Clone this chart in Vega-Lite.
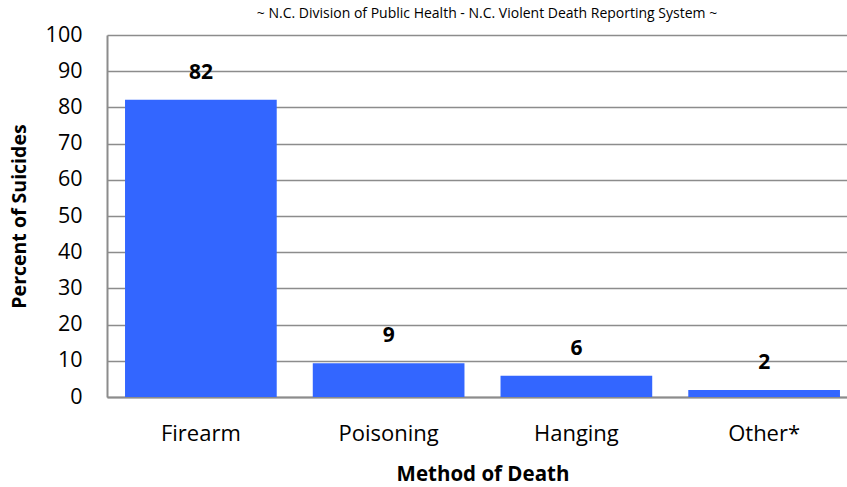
{
  "$schema": "https://vega.github.io/schema/vega-lite/v6.json",
  "autosize": "none",
  "padding": {"left": 107, "top": 35, "right": 0, "bottom": 90},
  "width": 740,
  "height": 362,
  "background": "white",
  "title": {
    "text": "NC-VDRS, 2005-2013",
    "subtitle": "~ N.C. Division of Public Health - N.C. Violent Death Reporting System ~",
    "font": "Open Sans",
    "fontSize": 30,
    "fontWeight": "bold",
    "color": "black",
    "subtitleFont": "Open Sans",
    "subtitleFontSize": 14,
    "subtitleColor": "black",
    "subtitlePadding": 5,
    "anchor": "middle",
    "dx": 10,
    "offset": 3
  },
  "data": {
    "values": [
      {"method": "Firearm", "percent": 82.1, "label": "82"},
      {"method": "Poisoning", "percent": 9.3, "label": "9"},
      {"method": "Hanging", "percent": 5.9, "label": "6"},
      {"method": "Other*", "percent": 1.9, "label": "2"}
    ]
  },
  "encoding": {
    "x": {
      "field": "method",
      "type": "nominal",
      "sort": null,
      "scale": {"range": [0, 751], "paddingInner": 0.192, "paddingOuter": 0.096},
      "axis": {
        "title": "Method of Death",
        "titleFont": "Open Sans",
        "titleFontSize": 20.5,
        "titleFontWeight": "bold",
        "titleColor": "black",
        "titlePadding": 20,
        "labelFont": "Open Sans",
        "labelFontSize": 22,
        "labelColor": "black",
        "labelAngle": 0,
        "labelPadding": 26,
        "ticks": false,
        "domainColor": "#8c8c8c",
        "domainWidth": 2,
        "grid": false
      }
    },
    "y": {
      "field": "percent",
      "type": "quantitative",
      "scale": {"domain": [0, 100], "nice": false},
      "axis": {
        "title": "Percent of Suicides",
        "titleFont": "Open Sans",
        "titleFontSize": 19.5,
        "titleFontWeight": "bold",
        "titleColor": "black",
        "titlePadding": 16,
        "labelFont": "Open Sans",
        "labelFontSize": 21.5,
        "labelColor": "black",
        "labelPadding": 25,
        "ticks": false,
        "values": [0, 10, 20, 30, 40, 50, 60, 70, 80, 90, 100],
        "domainColor": "#8c8c8c",
        "domainWidth": 2,
        "grid": true,
        "gridColor": "#8c8c8c",
        "gridWidth": 1.5
      }
    }
  },
  "layer": [
    {"mark": {"type": "bar", "color": "#3366ff"}},
    {
      "mark": {"type": "text", "font": "Open Sans", "fontSize": 21, "fontWeight": "bold", "color": "black", "baseline": "middle", "dy": -27},
      "encoding": {"text": {"field": "label"}}
    }
  ],
  "config": {"view": {"stroke": null}}
}
